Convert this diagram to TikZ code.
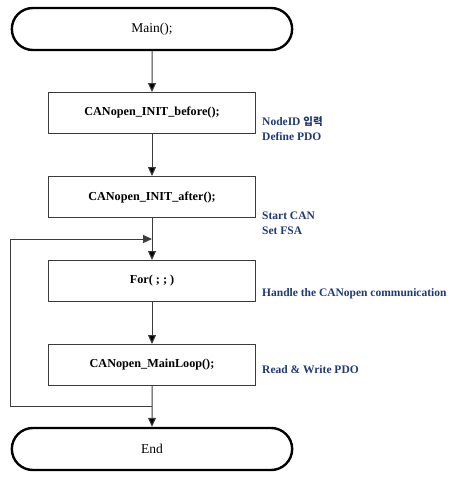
\documentclass[tikz,border=0pt]{standalone}
\usepackage{fontspec}
\setmainfont{Liberation Serif}
\newfontfamily\krfont{Noto Sans CJK KR}
\usepackage{tikz}
\usetikzlibrary{arrows.meta,positioning,shapes.misc,calc}
\definecolor{notecol}{RGB}{31,56,120}
\definecolor{linecol}{RGB}{60,60,60}

\begin{document}
\begin{tikzpicture}[x=1pt,y=-1pt,>={Triangle[length=9pt,width=8pt]},node distance=84pt,
    term/.style={rounded rectangle,draw=black,line width=2.4pt,minimum width=287pt,minimum height=42pt,font=\fontsize{13.5}{15}\selectfont},
    proc/.style={rectangle,draw=linecol,line width=1pt,minimum width=207pt,minimum height=41pt,font=\fontsize{12.2}{14}\selectfont\bfseries},
    note/.style={anchor=west,align=left,text=notecol,font=\fontsize{11.5}{15}\selectfont\bfseries,inner sep=0pt},
    flow/.style={->,draw=linecol,line width=1pt}]
      \useasboundingbox (0,0) rectangle (463,477);
      \node[term] (main) at (152,29) {Main();};
      \node[proc] (init1) [below of=main] {CANopen\_INIT\_before();};
      \node[proc] (init2) [below of=init1] {CANopen\_INIT\_after();};
      \node[proc] (forloop) [below of=init2] {For( ; ; )};
      \node[proc] (mainloop) [below of=forloop] {CANopen\_MainLoop();};
      \node[term] (end) [below of=mainloop] {End};
      % notes on the right
      \node[note] (n1) at ([xshift=6pt,yshift=-16pt]init1.east) {NodeID {\krfont\fontsize{10.5}{15}\selectfont 입력}\\Define PDO};
      \node[note] (n2) at ([xshift=6pt,yshift=-26pt]init2.east) {Start CAN\\Set FSA};
      \node[note] (n3) at ([xshift=6pt,yshift=-13pt]forloop.east) {Handle the CANopen communication};
      \node[note] (n4) at ([xshift=6pt,yshift=-5pt]mainloop.east) {Read \& Write PDO};
      % loop back
      \coordinate (j1) at ($(init2.south)!0.5!(forloop.north)$);
      \coordinate (j2) at ($(mainloop.south)!0.5!(end.north)$);
      \path[flow] (main) edge (init1)
      (init1) edge (init2)
      (init2) edge (forloop)
      (forloop) edge (mainloop)
      (mainloop) edge (end);
      \draw[flow] (j2) -- (j2 -| end.west) |- (j1);
    \end{tikzpicture}
\end{document}
